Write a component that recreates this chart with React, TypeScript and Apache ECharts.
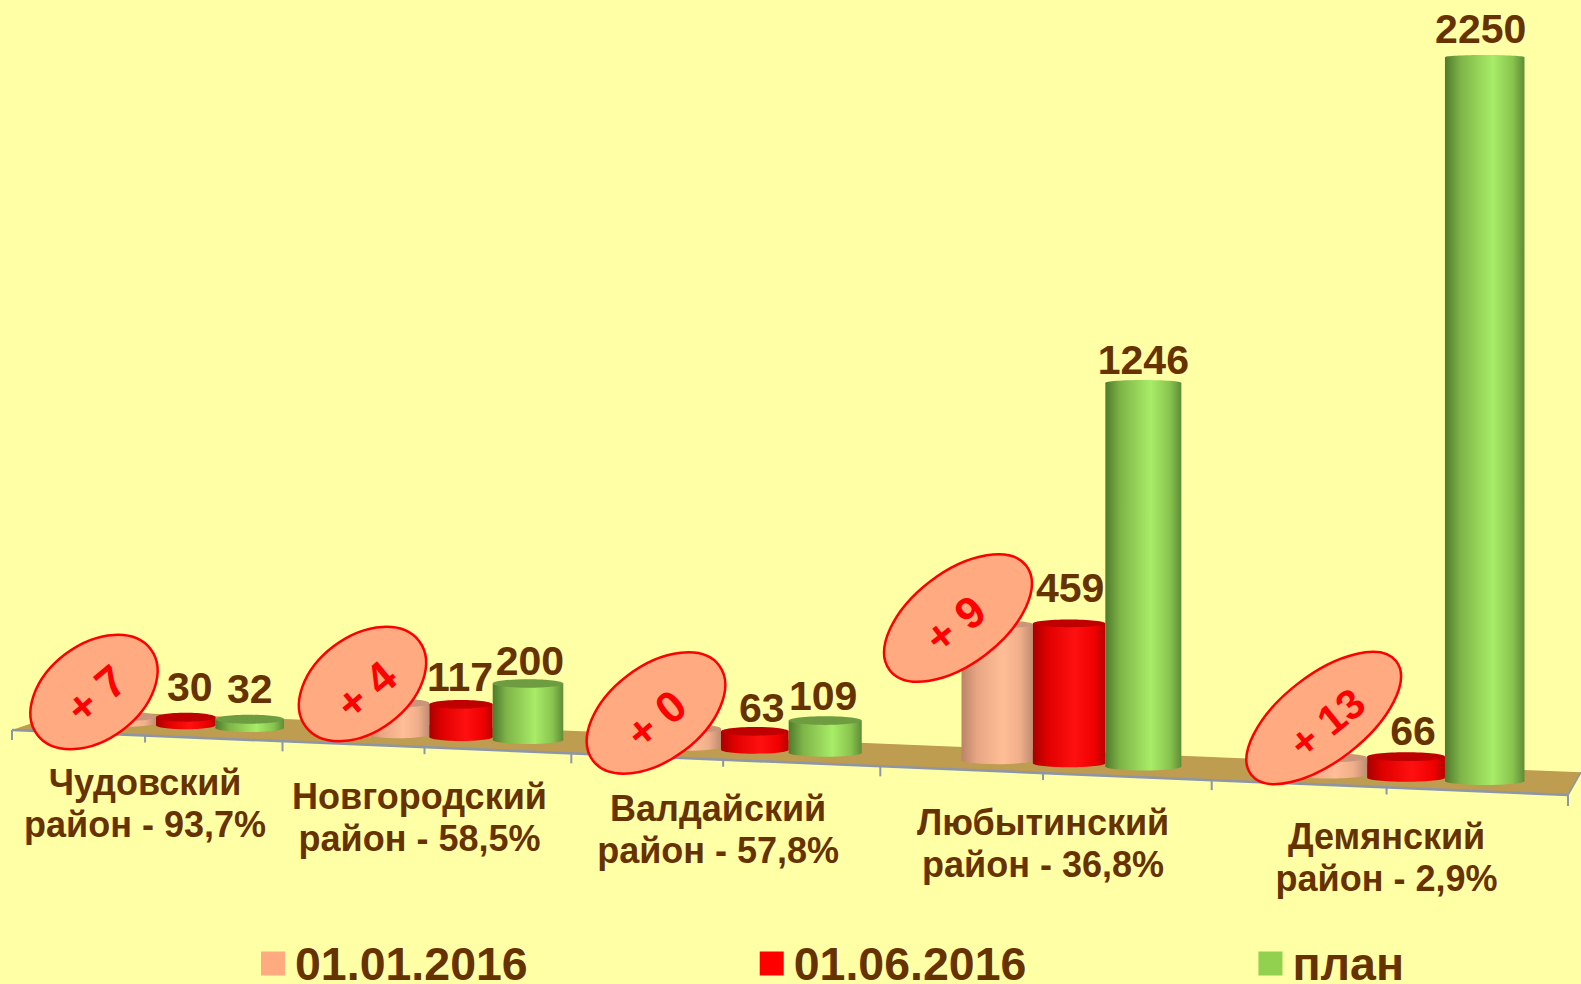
import React, { useEffect, useRef } from "react";
import * as echarts from "echarts";

const categories = [
  "Чудовский\nрайон - 93,7%",
  "Новгородский\nрайон - 58,5%",
  "Валдайский\nрайон - 57,8%",
  "Любытинский\nрайон - 36,8%",
  "Демянский\nрайон - 2,9%",
];
const seriesNames = ["01.01.2016", "01.06.2016", "план"];
const valuesJan = [23, 113, 63, 450, 53];
const valuesJun = [30, 117, 63, 459, 66];
const valuesPlan = [32, 200, 109, 1246, 2250];
const deltas = ["+ 7", "+ 4", "+ 0", "+ 9", "+ 13"];

// --- layout / style constants (not data) ---
const GRID_LEFT = 12;
const GRID_W = 1556;
const GRID_TOP = 0;
const GRID_H = 728;
const HEIGHT_K = 1.005;
const K = 0.188; // horizontal perspective
const BG = "#FFFFA6";
const BROWN = "#663300";
const FONT = '"Liberation Sans", Arial, sans-serif';

const warp = (u: number) => u / (1 + K * (1 - u));
const depth = (u: number) => 1 / (1 + K * (1 - u));
const toX = (u: number) => GRID_LEFT + GRID_W * warp(u);
const frontY = (x: number) => 730 + 0.0418 * (x - 12);
const backY = (x: number) => 720 + 0.041 * (x - 306);
const baseOffset = (x: number) => 0.043 * (x - 250);
const barU = (u: number) => u * 0.976 + 0.033;
const BAR_U = 0.0435;

const palettes = [
  { side: [[0, "#B98468"], [0.22, "#E8A684"], [0.58, "#FFBE96"], [0.82, "#F0AE8A"], [1, "#C08C72"]], top: "#C9967C" },
  { side: [[0, "#A80000"], [0.2, "#E00000"], [0.58, "#FF1010"], [0.85, "#F00000"], [1, "#B80000"]], top: "#BE0000" },
  { side: [[0, "#4F7A2C"], [0.2, "#7FB548"], [0.6, "#A8EC68"], [0.85, "#88C44E"], [1, "#5F8C36"]], top: "#6E9C40" },
];
const legendColors = ["#FFAA80", "#FF0000", "#92D050"];

// label nudges: [dx, distance above the bar top], for series 1 and 2
const labelNudge = [
  [[4, 30], [0, 30]],
  [[-1, 27], [2, 22]],
  [[7, 23], [-2, 25]],
  [[1, 35], [0, 23]],
  [[7, 26], [-4, 28]],
];
// nudges of the category captions: [dx, dy]
const captionNudge = [
  [0, -2],
  [-5, 0],
  [-5, 0],
  [0, 0],
  [0, 0],
];
const ovals = [
  { x: 94, y: 692, a: 71, b: 47.5, r: 37, tx: 96, ty: 694, tr: 40, size: 44 },
  { x: 362.5, y: 684, a: 71, b: 47.5, r: 37, tx: 366, ty: 690, tr: 40, size: 44 },
  { x: 656, y: 713, a: 79, b: 47, r: 37, tx: 656, ty: 719, tr: 40, size: 44 },
  { x: 958, y: 618, a: 86, b: 46, r: 37.4, tx: 955, ty: 624, tr: 38, size: 44 },
  { x: 1323.7, y: 718, a: 92, b: 43, r: 38, tx: 1327, ty: 723, tr: 39, size: 42 },
];

function barGeom(api: any, seriesIdx: number) {
  const i = api.value(0);
  const val = api.value(1);
  const zero = api.coord([i, 0]);
  const u = barU((zero[0] - GRID_LEFT) / GRID_W) + (seriesIdx - 1) * BAR_U;
  const x0 = toX(u - BAR_U / 2) - 1;
  // the last column of a group shows more of its side towards the left of the floor
  const x1 = toX(u + BAR_U / 2) - 1 + (seriesIdx === 2 ? 10 * (1 - u) : 0);
  const cx = (x0 + x1) / 2;
  const base = zero[1] + baseOffset(cx);
  const h = (zero[1] - api.coord([i, val])[1]) * Math.pow(depth(u), 1.25) * HEIGHT_K;
  return { i, x0, x1, cx, base, h };
}

function barSeries(name: string, values: number[], seriesIdx: number) {
  const pal = palettes[seriesIdx];
  return {
    name,
    type: "custom",
    z: 3 + seriesIdx,
    itemStyle: { color: legendColors[seriesIdx] },
    data: values.map((v, i) => [i, v]),
    renderItem: (_p: any, api: any) => {
      const g = barGeom(api, seriesIdx);
      const fill = new echarts.graphic.LinearGradient(
        0, 0, 1, 0,
        pal.side.map((s: any) => ({ offset: s[0], color: s[1] }))
      );
      const rx = (g.x1 - g.x0) / 2;
      const ryB = 4;
      const ryT = Math.max(2.2, 4.5 - g.h * 0.004);
      const topY = g.base - g.h;
      return {
        type: "group",
        children: [
          { type: "ellipse", shape: { cx: g.cx, cy: g.base, rx, ry: ryB }, style: { fill } },
          { type: "rect", shape: { x: g.x0, y: topY, width: g.x1 - g.x0, height: g.h }, style: { fill } },
          {
            type: "ellipse",
            shape: { cx: g.cx, cy: topY, rx, ry: ryT },
            style: { fill: g.h > 300 && seriesIdx === 2 ? fill : pal.top },
          },
        ],
      };
    },
  };
}

const floorSeries = {
  name: "floor",
  type: "custom",
  z: 1,
  silent: true,
  data: categories.map((_c, i) => [i, 0]),
  renderItem: (_p: any, api: any) => {
    const i = api.value(0);
    const children: any[] = [];
    const line = "#8C96A8";
    if (i === 0) {
      const leftX = GRID_LEFT;
      const rightX = GRID_LEFT + GRID_W;
      children.push({
        type: "polygon",
        shape: {
          points: [
            [leftX, frontY(leftX)],
            [rightX, frontY(rightX)],
            [1581, backY(1581)],
            [70, backY(70)],
          ],
        },
        style: { fill: "#BE9C50" },
      });
      children.push({
        type: "line",
        shape: { x1: leftX, y1: frontY(leftX), x2: rightX, y2: frontY(rightX) },
        style: { stroke: line, lineWidth: 2.5 },
      });
      children.push({
        type: "line",
        shape: { x1: rightX, y1: frontY(rightX), x2: 1581, y2: backY(1581) },
        style: { stroke: line, lineWidth: 1.5 },
      });
    }
    const px = api.coord([i, 0])[0];
    const u = (px - GRID_LEFT) / GRID_W;
    const tick = (uu: number, len: number) => {
      const x = toX(uu);
      children.push({
        type: "line",
        shape: { x1: x, y1: frontY(x), x2: x, y2: frontY(x) + len },
        style: { stroke: line, lineWidth: 2 },
      });
    };
    tick(u - 0.1, 10);
    tick(u, 7);
    if (i === categories.length - 1) tick(u + 0.1, 11);
    return { type: "group", children };
  },
};

const labelData: number[][] = [];
[valuesJun, valuesPlan].forEach((vals, s) =>
  vals.forEach((v, i) => labelData.push([i, v, s + 1]))
);
const valueLabels = {
  name: "values",
  type: "custom",
  z: 8,
  silent: true,
  data: labelData,
  renderItem: (_p: any, api: any) => {
    const s = api.value(2);
    const g = barGeom(api, s);
    const n = labelNudge[g.i][s - 1];
    return {
      type: "text",
      style: {
        text: String(api.value(1)),
        x: g.cx + n[0],
        y: g.base - g.h - n[1],
        fill: BROWN,
        font: `bold 41px ${FONT}`,
        align: "center",
        verticalAlign: "middle",
        textAlign: "center",
        textVerticalAlign: "middle",
      },
    };
  },
};

const axisLabels = {
  name: "categories",
  type: "custom",
  z: 8,
  silent: true,
  data: categories.map((_c, i) => [i, 0]),
  renderItem: (_p: any, api: any) => {
    const i = api.value(0);
    const x = toX((api.coord([i, 0])[0] - GRID_LEFT) / GRID_W);
    const n = captionNudge[i];
    return {
      type: "text",
      style: {
        text: categories[i],
        x: x + n[0],
        y: frontY(x) + 70 + n[1],
        fill: BROWN,
        font: `bold 36px ${FONT}`,
        lineHeight: 42,
        align: "center",
        verticalAlign: "middle",
        textAlign: "center",
        textVerticalAlign: "middle",
      },
    };
  },
};

const deg = (d: number) => (d * Math.PI) / 180;

export default function App() {
  const ref = useRef<HTMLDivElement>(null);
  useEffect(() => {
    document.body.style.margin = "0";
    const chart = echarts.init(ref.current!, undefined, { renderer: "svg" });
    chart.setOption({
      animation: false,
      backgroundColor: BG,
      grid: { left: GRID_LEFT, width: GRID_W, top: GRID_TOP, height: GRID_H },
      xAxis: { type: "category", data: categories, show: false },
      yAxis: { type: "value", min: 0, max: 2250, show: false },
      legend: {
        data: seriesNames,
        left: 261,
        top: 940,
        padding: 0,
        itemWidth: 24,
        itemHeight: 24,
        itemGap: 232,
        icon: "rect",
        selectedMode: false,
        textStyle: {
          color: BROWN,
          fontSize: 46.5,
          lineHeight: 42,
          fontWeight: "bold",
          fontFamily: FONT,
          padding: [0, 0, 0, 5],
        },
      },
      series: [
        floorSeries,
        barSeries(seriesNames[0], valuesJan, 0),
        barSeries(seriesNames[1], valuesJun, 1),
        barSeries(seriesNames[2], valuesPlan, 2),
        valueLabels,
        axisLabels,
      ],
      graphic: {
        elements: ovals.flatMap((o, i) => [
          {
            type: "ellipse",
            z: 100,
            x: o.x,
            y: o.y,
            rotation: deg(o.r),
            shape: { cx: 0, cy: 0, rx: o.a, ry: o.b },
            style: { fill: "#FFAA80", stroke: "#FF0000", lineWidth: 2.5 },
          },
          {
            type: "text",
            z: 101,
            x: o.tx,
            y: o.ty,
            rotation: deg(o.tr),
            style: {
              text: deltas[i],
              fill: "#FF0000",
              font: `bold ${o.size}px ${FONT}`,
              align: "center",
              verticalAlign: "middle",
              textAlign: "center",
              textVerticalAlign: "middle",
            },
          },
        ]),
      },
    });
    return () => chart.dispose();
  }, []);
  return (
    <div
      ref={ref}
      style={{ position: "absolute", left: 0, top: 0, width: 1581, height: 984 }}
    />
  );
}
